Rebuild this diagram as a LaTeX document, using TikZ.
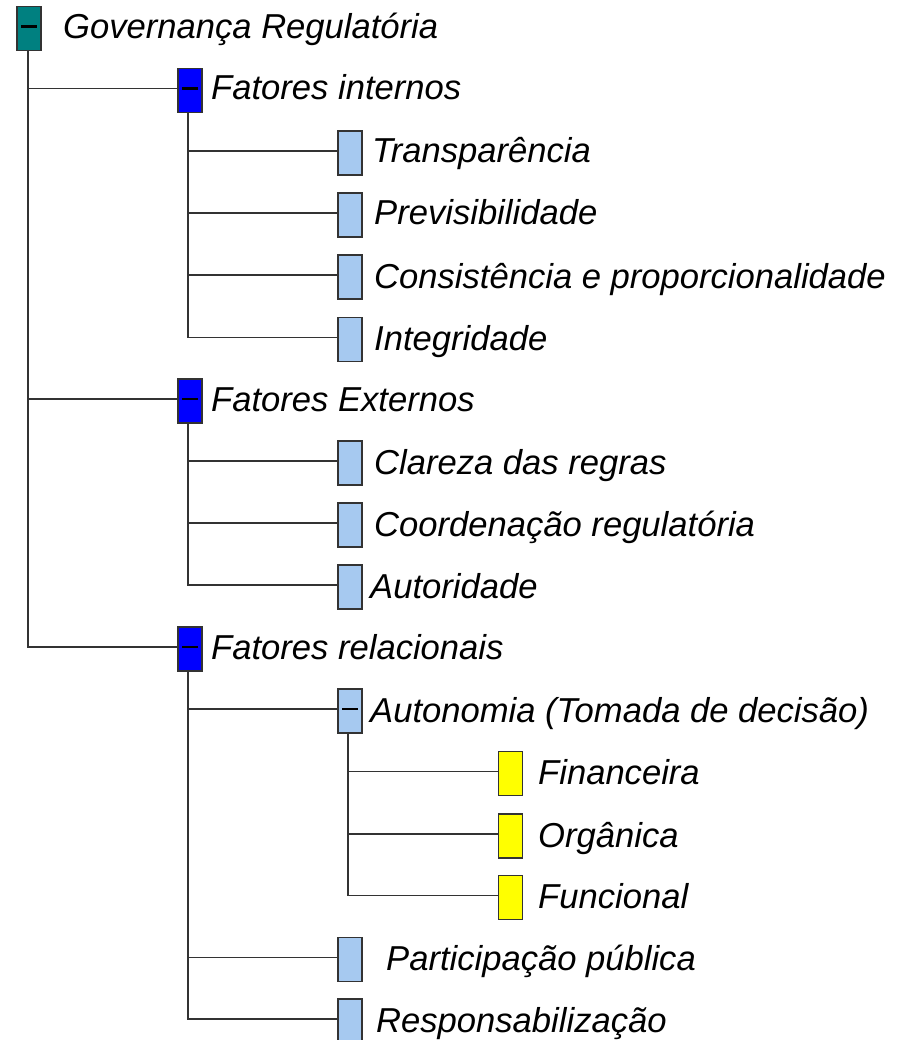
\documentclass[tikz,border=0pt]{standalone}
\usepackage{fontspec}
\setmainfont{Liberation Sans}
\usetikzlibrary{calc}
\definecolor{edge}{HTML}{333333}
\definecolor{tealbox}{HTML}{008080}
\definecolor{bluebox}{HTML}{0000FF}
\definecolor{lightbox}{HTML}{A6C9F0}
\definecolor{yellowbox}{HTML}{FFFF00}
\begin{document}
\begin{tikzpicture}[x=1pt,y=-1pt,
  box/.style={draw=edge,line width=1.8pt,minimum width=24pt,minimum height=44pt,inner sep=0pt,rectangle},
  rootbox/.style={box,fill=tealbox},
  lonebox/.style={box,fill=bluebox},
  ltwobox/.style={box,fill=lightbox},
  ybox/.style={box,fill=yellowbox},
  lbl/.style={anchor=base west,inner sep=0pt,font=\fontsize{34.6}{40}\selectfont\itshape},
  conn/.style={draw=edge,line width=1.8pt},
  minus/.style={draw=black,line width=2.4pt}]
\useasboundingbox[fill=white] (0,0) rectangle (901,1040);

% boxes
\node[rootbox] (root) at (29,28.5) {};
\node[lonebox] (f1) at (190,90.5) {};
\node[lonebox] (f2) at (190,401) {};
\node[lonebox] (f3) at (190,649) {};
\node[ltwobox] (a1) at (350,153) {};
\node[ltwobox] (a2) at (350,215) {};
\node[ltwobox] (a3) at (350,277) {};
\node[ltwobox] (a4) at (350,339.5) {};
\node[ltwobox] (b1) at (350,463) {};
\node[ltwobox] (b2) at (350,525) {};
\node[ltwobox] (b3) at (350,587) {};
\node[ltwobox] (c1) at (350,711) {};
\node[ltwobox] (c2) at (350,959.5) {};
\node[ltwobox] (c3) at (350,1021) {};
\node[ybox] (d1) at (510.5,773.5) {};
\node[ybox] (d2) at (510.5,836) {};
\node[ybox] (d3) at (510.5,897.5) {};

% minus signs
\foreach \n in {root,f1,f2,f3,c1}{
  \draw[minus] ($(\n.center)+(-8,-2)$) -- ($(\n.center)+(8,-2)$);
}

% labels
\node[lbl] (rootl) at (63,39) {Governança Regulatória};
\node[lbl] (f1l) at (211,100) {Fatores internos};
\node[lbl] (f2l) at (211,411) {Fatores Externos};
\node[lbl] (f3l) at (211,659) {Fatores relacionais};
\node[lbl] (a1l) at (372,163) {Transparência};
\node[lbl] (a2l) at (374,225) {Previsibilidade};
\node[lbl] (a3l) at (374,288) {Consistência e proporcionalidade};
\node[lbl] (a4l) at (374,350) {Integridade};
\node[lbl] (b1l) at (374,474) {Clareza das regras};
\node[lbl] (b2l) at (374,536) {Coordenação regulatória};
\node[lbl] (b3l) at (370,598) {Autoridade};
\node[lbl] (c1l) at (370,722) {Autonomia (Tomada de decisão)};
\node[lbl] (c2l) at (386,970) {Participação pública};
\node[lbl] (c3l) at (376,1032) {Responsabilização};
\node[lbl] (d1l) at (538,784) {Financeira};
\node[lbl] (d2l) at (538,847) {Orgânica};
\node[lbl] (d3l) at (538,908) {Funcional};

% trunk coordinates
\coordinate (v0) at ($(root.south)+(-1,0)$);
\coordinate (v1) at ($(f1.south)+(-2,0)$);
\coordinate (v2) at ($(f2.south)+(-2,0)$);
\coordinate (v3) at ($(f3.south)+(-2,0)$);
\coordinate (v4) at ($(c1.south)+(-2,0)$);

% connectors
\draw[conn] (v0) |- ($(f3.west)+(0,-2)$);
\draw[conn] ($(f1.west)+(0,-2)$) -- ($(f1.west -| v0)+(0,-2)$);
\draw[conn] ($(f2.west)+(0,-2)$) -- ($(f2.west -| v0)+(0,-2)$);

\draw[conn] (v1) |- ($(a4.west)+(0,-2)$);
\foreach \n in {a1,a2,a3}{
  \draw[conn] ($(\n.west)+(0,-2)$) -- ($(\n.west -| v1)+(0,-2)$);
}
\draw[conn] (v2) |- ($(b3.west)+(0,-2)$);
\foreach \n in {b1,b2}{
  \draw[conn] ($(\n.west)+(0,-2)$) -- ($(\n.west -| v2)+(0,-2)$);
}
\draw[conn] (v3) |- ($(c3.west)+(0,-2)$);
\foreach \n in {c1,c2}{
  \draw[conn] ($(\n.west)+(0,-2)$) -- ($(\n.west -| v3)+(0,-2)$);
}
\draw[conn] (v4) |- ($(d3.west)+(0,-2)$);
\foreach \n in {d1,d2}{
  \draw[conn] ($(\n.west)+(0,-2)$) -- ($(\n.west -| v4)+(0,-2)$);
}
\end{tikzpicture}
\end{document}
